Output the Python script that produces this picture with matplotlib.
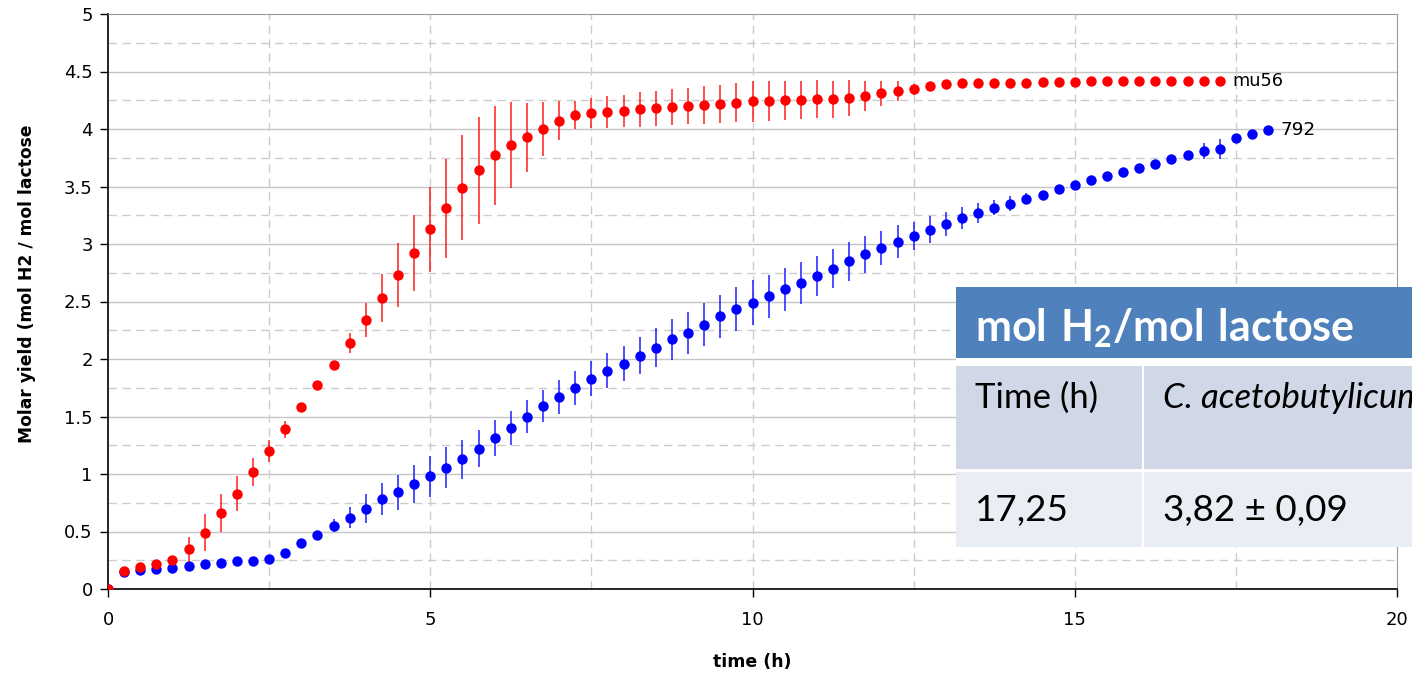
import matplotlib
matplotlib.use("Agg")
import matplotlib.pyplot as plt
import numpy as np
from matplotlib.patches import Rectangle

# time axis (h), one reading every 0.25 h
t_red = np.arange(70) * 0.25
t_blue = np.arange(73) * 0.25

# mu56 (red)
y_red = [0.0, 0.16, 0.19, 0.22, 0.25, 0.345, 0.49, 0.66, 0.83, 1.02,
         1.20, 1.39, 1.58, 1.77, 1.95, 2.14, 2.34, 2.53, 2.73, 2.92,
         3.13, 3.31, 3.49, 3.64, 3.77, 3.86, 3.93, 4.00, 4.07, 4.12,
         4.14, 4.15, 4.16, 4.17, 4.18, 4.19, 4.20, 4.21, 4.22, 4.23,
         4.24, 4.245, 4.25, 4.25, 4.26, 4.26, 4.27, 4.29, 4.31, 4.33,
         4.345, 4.37, 4.39, 4.40, 4.40, 4.40, 4.40, 4.40, 4.41, 4.41,
         4.41, 4.415, 4.415, 4.415, 4.415, 4.415, 4.42, 4.42, 4.42, 4.42]
e_red = [0.0, 0.02, 0.02, 0.02, 0.03, 0.11, 0.16, 0.165, 0.15, 0.12,
         0.095, 0.075, 0.04, 0.02, 0.02, 0.09, 0.15, 0.205, 0.275, 0.33,
         0.37, 0.43, 0.455, 0.465, 0.43, 0.375, 0.30, 0.235, 0.17, 0.12,
         0.13, 0.14, 0.14, 0.15, 0.15, 0.155, 0.16, 0.165, 0.165, 0.17,
         0.18, 0.175, 0.17, 0.167, 0.165, 0.16, 0.155, 0.13, 0.11, 0.085,
         0.05, 0.0, 0.0, 0.0, 0.0, 0.0, 0.0, 0.0, 0.0, 0.0,
         0.0, 0.0, 0.0, 0.0, 0.0, 0.0, 0.0, 0.0, 0.0, 0.0]

# 792 (blue)
y_blue = [0.0, 0.145, 0.165, 0.175, 0.18, 0.20, 0.215, 0.23, 0.24, 0.245,
          0.265, 0.315, 0.40, 0.47, 0.55, 0.62, 0.70, 0.78, 0.84, 0.91,
          0.98, 1.055, 1.13, 1.22, 1.31, 1.40, 1.50, 1.59, 1.67, 1.75,
          1.83, 1.90, 1.96, 2.03, 2.10, 2.17, 2.23, 2.30, 2.37, 2.435,
          2.49, 2.545, 2.605, 2.66, 2.72, 2.785, 2.85, 2.91, 2.965, 3.02,
          3.07, 3.125, 3.17, 3.225, 3.27, 3.315, 3.35, 3.395, 3.43, 3.475,
          3.51, 3.555, 3.59, 3.625, 3.66, 3.70, 3.735, 3.77, 3.81, 3.825,
          3.925, 3.96, 3.99]
e_blue = [0.0, 0.0, 0.0, 0.0, 0.0, 0.0, 0.0, 0.0, 0.0, 0.0,
          0.0, 0.01, 0.01, 0.02, 0.055, 0.09, 0.125, 0.14, 0.155, 0.165,
          0.18, 0.18, 0.17, 0.16, 0.157, 0.15, 0.145, 0.14, 0.148, 0.148,
          0.15, 0.15, 0.154, 0.163, 0.168, 0.178, 0.183, 0.183, 0.19, 0.19,
          0.193, 0.185, 0.185, 0.18, 0.174, 0.17, 0.168, 0.16, 0.15, 0.142,
          0.125, 0.117, 0.104, 0.093, 0.084, 0.067, 0.067, 0.048, 0.02, 0.02,
          0.0, 0.0, 0.0, 0.0, 0.0, 0.0, 0.01, 0.03, 0.068, 0.09,
          0.0, 0.0, 0.0]

series_names = ['mu56', '792']

yticks = [0, 0.5, 1, 1.5, 2, 2.5, 3, 3.5, 4, 4.5, 5]
ytick_labels = ['0', '0.5', '1', '1.5', '2', '2.5', '3', '3.5', '4', '4.5', '5']
xticks = [0, 5, 10, 15, 20]

table_title = 'mol H_2/mol lactose'
table_head = ['Time (h)', 'C. acetobutylicum']
table_row = ['17,25', '3,82 \u00b1 0,09']

plt.rcParams['font.family'] = ['DejaVu Sans']
plt.rcParams['mathtext.fontset'] = 'custom'
plt.rcParams['mathtext.bf'] = 'Lato:bold'
plt.rcParams['mathtext.rm'] = 'Lato'

W, H = 1412, 675
fig = plt.figure(figsize=(W / 100, H / 100), dpi=100)
ax = fig.add_axes([108 / W, 1 - 589 / H, (1397 - 108) / W, (589 - 14) / H])

# grid: solid majors / dashed minors on y, dashed on x every 2.5
for yv in np.arange(0.5, 5.0, 0.5):
    ax.axhline(yv, color='#c6c6c6', lw=1.0, zorder=0)
for yv in np.arange(0.25, 5.0, 0.5):
    ax.axhline(yv, color='#cccccc', lw=1.0, ls=(0, (6, 4)), zorder=0)
for xv in np.arange(2.5, 20.0, 2.5):
    ax.axvline(xv, color='#cccccc', lw=1.0, ls=(0, (6, 4)), zorder=0)

ax.errorbar(t_blue, y_blue, yerr=e_blue, fmt='o', color='#0000ff', ms=7.5,
            mew=0, ecolor=(0, 0, 1, 0.75), elinewidth=1.3, capsize=0, zorder=3)
ax.errorbar(t_red, y_red, yerr=e_red, fmt='o', color='#ff0000', ms=7.5,
            mew=0, ecolor=(1, 0, 0, 0.75), elinewidth=1.3, capsize=0, zorder=4)

ax.annotate(series_names[0], (t_red[-1], y_red[-1]), xytext=(9, 0),
            textcoords='offset points', va='center', ha='left', fontsize=12.8)
ax.annotate(series_names[1], (t_blue[-1], y_blue[-1]), xytext=(9, 0),
            textcoords='offset points', va='center', ha='left', fontsize=13.3)

ax.set_xlim(0, 20)
ax.set_ylim(0, 5)
ax.set_xticks(xticks)
ax.set_xticklabels([str(v) for v in xticks])
ax.set_yticks(yticks)
ax.set_yticklabels(ytick_labels)
ax.tick_params(axis='both', direction='out', length=6, width=1, labelsize=13, pad=5)
ax.tick_params(axis='x', pad=10)
for s in ['top', 'right']:
    ax.spines[s].set_color('#999999')
for s in ['left', 'bottom']:
    ax.spines[s].set_color('black')
    ax.spines[s].set_linewidth(1.2)

ax.set_xlabel('time (h)', fontsize=12.5, fontweight='bold', labelpad=17)
fig.text(27 / W, 1 - 284 / H, 'Molar yield (mol H2 / mol lactose', rotation=90,
         fontsize=12.3, fontweight='bold', ha='center', va='center')

# pasted table on top of the chart
def box(x0, y0, x1, y1, c):
    fig.add_artist(Rectangle((x0 / W, 1 - y1 / H), (x1 - x0) / W, (y1 - y0) / H,
                             transform=fig.transFigure, facecolor=c,
                             edgecolor='none', zorder=10))

box(956, 287, 1412, 547, 'white')
box(956, 287, 1412, 358, '#4f81bd')
box(956, 366, 1141.5, 469, '#d0d8e8')
box(1144, 366, 1412, 469, '#d0d8e8')
box(956, 472, 1141.5, 547, '#e9edf4')
box(1144, 472, 1412, 547, '#e9edf4')

title_parts = table_title.split('_')
fig.text(975 / W, 1 - 341 / H,
         r'$\mathbf{' + title_parts[0].replace(' ', r'\ ') + '_{' + title_parts[1][0] + '}'
         + title_parts[1][1:].replace(' ', r'\ ') + '}$',
         color='white', fontsize=31, va='baseline', ha='left', zorder=11)
fig.text(975 / W, 1 - 408 / H, table_head[0], family='Lato', fontsize=25,
         va='baseline', ha='left', zorder=11)
fig.text(1163 / W, 1 - 408 / H, table_head[1], family='Lato', style='italic',
         fontsize=25, va='baseline', ha='left', zorder=11)
fig.text(975 / W, 1 - 521 / H, table_row[0], family='Lato', fontsize=26.5,
         va='baseline', ha='left', zorder=11)
fig.text(1163 / W, 1 - 521 / H, table_row[1], family='Lato', fontsize=26.5,
         va='baseline', ha='left', zorder=11)

fig.savefig('out.png', dpi=100)
